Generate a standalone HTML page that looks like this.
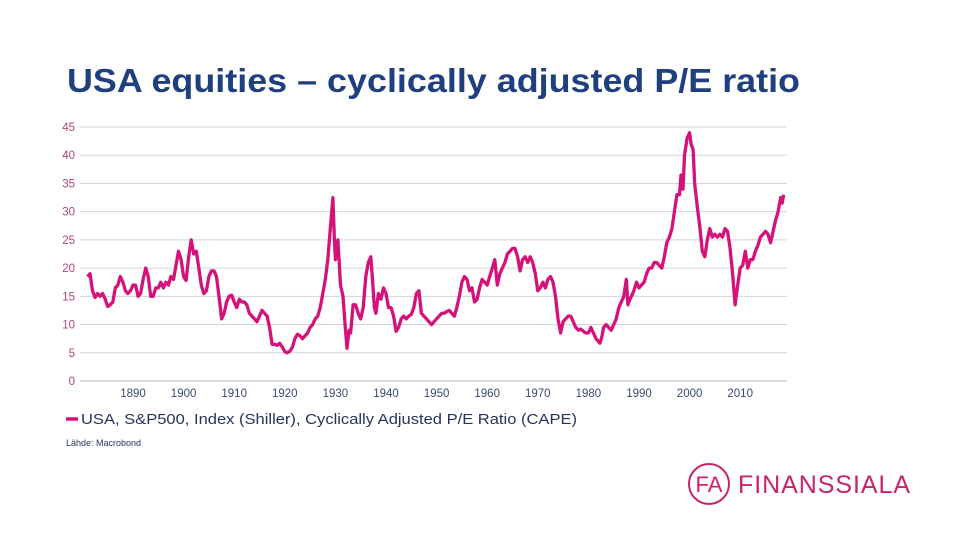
<!DOCTYPE html>
<html><head><meta charset="utf-8"><style>
body{margin:0;width:960px;height:540px;background:#fff;overflow:hidden;font-family:"Liberation Sans",sans-serif;}
</style></head><body>
<svg id="chart" width="960" height="540" style="position:absolute;left:0;top:0">
<text x="67" y="92" font-size="33" font-weight="bold" fill="#1f3f7e" font-family="Liberation Sans, sans-serif" textLength="733" lengthAdjust="spacingAndGlyphs">USA equities – cyclically adjusted P/E ratio</text>
<g id="grid"></g>
<g id="yt"></g>
<g id="xt"></g>
<path id="line" fill="none" stroke="#d4127a" stroke-width="3.3" stroke-linejoin="round"/>
<g>
<line x1="66" y1="419" x2="78" y2="419" stroke="#d4127a" stroke-width="3.5"/>
<text x="81" y="424" font-size="15" fill="#26345c" font-family="Liberation Sans, sans-serif" textLength="496" lengthAdjust="spacingAndGlyphs">USA, S&amp;P500, Index (Shiller), Cyclically Adjusted P/E Ratio (CAPE)</text>
</g>
<text x="66" y="446" font-size="9" fill="#26345c" font-family="Liberation Sans, sans-serif">Lähde: Macrobond</text>
<g>
<circle cx="709" cy="484" r="20" fill="none" stroke="#c8246e" stroke-width="2"/>
<text x="709" y="492" text-anchor="middle" font-size="22" fill="#c8246e" font-family="Liberation Sans, sans-serif">FA</text>
<text x="738" y="493" font-size="25" fill="#c8246e" font-family="Liberation Sans, sans-serif" textLength="172">FINANSSIALA</text>
</g>
</svg>
<script>
const years=[1881,1881.5,1882,1882.5,1883,1883.5,1884,1884.5,1885,1885.5,1886,1886.5,1887,1887.5,1888,1888.5,1889,1889.5,1890,1890.5,1891,1891.5,1892,1892.5,1893,1893.5,1894,1894.5,1895,1895.5,1896,1896.5,1897,1897.5,1898,1898.5,1899,1899.5,1900,1900.5,1901,1901.5,1902,1902.5,1903,1903.5,1904,1904.5,1905,1905.5,1906,1906.5,1907,1907.5,1908,1908.5,1909,1909.5,1910,1910.5,1911,1911.5,1912,1912.5,1913,1913.5,1914,1914.5,1915,1915.5,1916,1916.5,1917,1917.5,1918,1918.5,1919,1919.5,1920,1920.5,1921,1921.5,1922,1922.5,1923,1923.5,1924,1924.5,1925,1925.5,1926,1926.5,1927,1927.5,1928,1928.5,1929,1929.5,1929.8,1930,1930.5,1931,1931.5,1932,1932.3,1932.7,1933,1933.5,1934,1934.5,1935,1935.5,1936,1936.5,1937,1937.3,1937.7,1938,1938.5,1939,1939.5,1940,1940.5,1941,1941.5,1942,1942.5,1943,1943.5,1944,1944.5,1945,1945.5,1946,1946.5,1947,1947.5,1948,1948.5,1949,1949.5,1950,1950.5,1951,1951.5,1952,1952.5,1953,1953.5,1954,1954.5,1955,1955.5,1956,1956.5,1957,1957.5,1958,1958.5,1959,1959.5,1960,1960.5,1961,1961.5,1962,1962.5,1963,1963.5,1964,1964.5,1965,1965.5,1966,1966.5,1967,1967.5,1968,1968.5,1969,1969.5,1970,1970.5,1971,1971.5,1972,1972.5,1973,1973.5,1974,1974.5,1975,1975.5,1976,1976.5,1977,1977.5,1978,1978.5,1979,1979.5,1980,1980.5,1981,1981.5,1982,1982.3,1982.7,1983,1983.5,1984,1984.5,1985,1985.5,1986,1986.5,1987,1987.5,1987.8,1988,1988.5,1989,1989.5,1990,1990.5,1991,1991.5,1992,1992.5,1993,1993.5,1994,1994.5,1995,1995.5,1996,1996.5,1997,1997.5,1998,1998.3,1998.7,1999,1999.5,2000,2000.3,2000.7,2001,2001.5,2002,2002.5,2003,2003.5,2004,2004.5,2005,2005.5,2006,2006.5,2007,2007.5,2008,2008.5,2009,2009.5,2010,2010.5,2011,2011.5,2012,2012.5,2013,2013.5,2014,2014.5,2015,2015.5,2016,2016.5,2017,2017.5,2018,2018.3,2018.6];
const cape=[18.5,19,16,14.8,15.5,15,15.5,14.5,13.2,13.5,14,16.5,17,18.5,17.5,16,15.5,16,17,17,15,15.5,18,20,18.5,15,15,16.5,16.5,17.5,16.5,17.5,17,18.5,18,20.5,23,21.5,18.5,17.8,22,25,22.5,23,20,17,15.5,16,18.5,19.5,19.5,18.5,15,11,12,14,15,15.2,14,13,14.5,14,14,13.5,12,11.5,11,10.5,11.5,12.5,12,11.5,9.5,6.5,6.5,6.3,6.7,6,5.2,5,5.3,6,7.5,8.3,8,7.5,8,8.5,9.5,10,11,11.5,13,15.5,18,21.5,27,32.5,25,21.5,25,17,15,9,5.8,9,8.5,13.5,13.5,12,11,13,18.5,21,22,18.5,13,12,15.5,14.5,16.5,15.5,13,13,11.5,8.8,9.5,11,11.5,11,11.5,11.8,13,15.5,16,12,11.5,11,10.5,10,10.5,11,11.5,12,12,12.3,12.5,12,11.5,13,15,17.5,18.5,18,16,16.5,14,14.5,16.5,18,17.5,17,18.5,20,21.5,17,19,20,21,22.5,23,23.5,23.5,22,19.5,21.5,22,21,22,21,19,16,16.5,17.5,16.5,18,18.5,17.5,15,11,8.5,10.5,11,11.5,11.5,10.5,9.5,9,9.2,8.8,8.5,8.5,9.5,8.5,7.5,7,6.7,8,9.5,10,9.5,9,10,11,13,14,15,18,13.5,14,15,16,17.5,16.5,17,17.5,19,20,20,21,21,20.5,20,22,24.5,25.5,27,30,33,33,36.5,34,40,43,44,42,41,35,31,27.5,23,22,25,27,25.5,26,25.5,26,25.5,27,26.5,23.5,19,13.5,17,20,20.5,23,20,21.5,21.5,23,24,25.5,26,26.5,26,24.5,26.5,28.5,30,32.5,31.5,33];
const yTicks=[0,5,10,15,20,25,30,35,40,45];
const xTicks=[1890,1900,1910,1920,1930,1940,1950,1960,1970,1980,1990,2000,2010];
const ns="http://www.w3.org/2000/svg";
function X(yr){return 133+(yr-1890)*5.06;}
function Y(v){return 381-v*5.644;}
const grid=document.getElementById('grid'),yt=document.getElementById('yt'),xt=document.getElementById('xt');
yTicks.forEach(v=>{
 const l=document.createElementNS(ns,'line');
 
 
 l.setAttribute('x1',80);l.setAttribute('x2',787);l.setAttribute('y1',Y(v));l.setAttribute('y2',Y(v));
 l.setAttribute('stroke',v===0?'#bbb':'#d4d4d4');l.setAttribute('stroke-width',1);
 grid.appendChild(l);
 const t=document.createElementNS(ns,'text');
 
 
 t.setAttribute('x',75);t.setAttribute('y',Y(v)+4);t.setAttribute('text-anchor','end');
 t.setAttribute('font-size','11.5');t.setAttribute('fill','#b0457e');t.setAttribute('font-family','Liberation Sans, sans-serif');
 t.textContent=v;yt.appendChild(t);
});
xTicks.forEach(yr=>{
 const t=document.createElementNS(ns,'text');
 
 
 t.setAttribute('x',X(yr));t.setAttribute('y',397);t.setAttribute('text-anchor','middle');
 t.setAttribute('font-size','11.5');t.setAttribute('fill','#3a4a6e');t.setAttribute('font-family','Liberation Sans, sans-serif');
 t.textContent=yr;xt.appendChild(t);
});
let d='';
years.forEach((yr,i)=>{d+=(i?'L':'M')+X(yr).toFixed(1)+','+Y(cape[i]).toFixed(1);});
document.getElementById('line').setAttribute('d',d);
</script>
</body></html>
